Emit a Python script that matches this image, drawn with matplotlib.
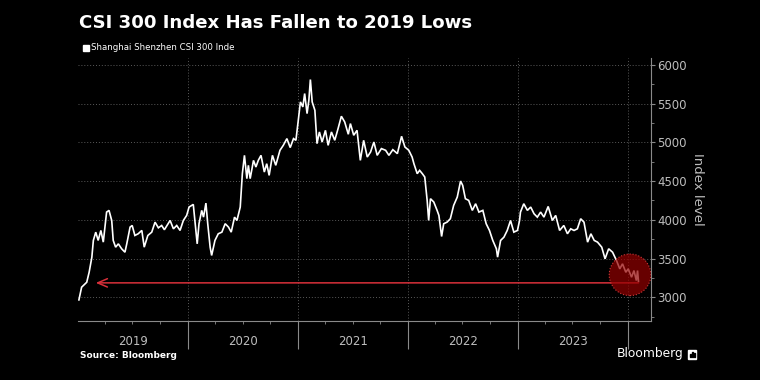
import matplotlib
matplotlib.use("Agg")
import matplotlib.pyplot as plt
import matplotlib.dates as mdates
from matplotlib.ticker import MultipleLocator, NullFormatter, FixedLocator
import pandas as pd

# ---------------- data ----------------
dates = [
    "2019-01-04", "2019-01-13", "2019-01-30", "2019-02-07", "2019-02-16", "2019-02-21",
    "2019-03-01", "2019-03-09", "2019-03-18", "2019-03-26", "2019-04-06", "2019-04-14",
    "2019-04-23", "2019-04-28", "2019-05-06", "2019-05-15", "2019-05-26", "2019-06-06",
    "2019-06-12", "2019-06-23", "2019-06-30", "2019-07-09", "2019-07-20", "2019-08-01",
    "2019-08-09", "2019-08-21", "2019-09-03", "2019-09-14", "2019-09-25", "2019-10-06",
    "2019-10-15", "2019-11-03", "2019-11-14", "2019-11-25", "2019-12-06", "2019-12-17",
    "2019-12-28",
    "2020-01-05", "2020-01-19", "2020-02-01", "2020-02-07", "2020-02-16", "2020-02-22",
    "2020-03-01", "2020-03-07", "2020-03-15", "2020-03-20", "2020-03-31", "2020-04-11",
    "2020-04-23", "2020-05-04", "2020-05-15", "2020-05-24", "2020-06-04", "2020-06-12",
    "2020-06-23", "2020-06-30", "2020-07-07", "2020-07-15", "2020-07-20", "2020-07-26",
    "2020-08-06", "2020-08-14", "2020-08-22", "2020-08-31", "2020-09-11", "2020-09-19",
    "2020-09-27", "2020-10-08", "2020-10-19", "2020-11-02", "2020-11-13", "2020-11-25",
    "2020-12-06", "2020-12-17", "2020-12-25",
    "2021-01-03", "2021-01-09", "2021-01-17", "2021-01-23", "2021-01-31", "2021-02-06",
    "2021-02-11", "2021-02-17", "2021-02-26", "2021-03-05", "2021-03-13", "2021-03-22",
    "2021-04-02", "2021-04-11", "2021-04-22", "2021-05-03", "2021-05-14", "2021-05-25",
    "2021-06-05", "2021-06-17", "2021-06-24", "2021-07-05", "2021-07-16", "2021-07-27",
    "2021-08-07", "2021-08-19", "2021-08-30", "2021-09-10", "2021-09-21", "2021-10-05",
    "2021-10-19", "2021-10-30", "2021-11-12", "2021-11-27", "2021-12-11", "2021-12-22",
    "2022-01-04", "2022-01-15", "2022-01-21", "2022-02-01", "2022-02-09", "2022-02-18",
    "2022-02-26", "2022-03-06", "2022-03-11", "2022-03-17", "2022-03-28", "2022-04-08",
    "2022-04-14", "2022-04-23", "2022-04-30", "2022-05-11", "2022-05-22", "2022-06-02",
    "2022-06-14", "2022-06-25", "2022-07-02", "2022-07-11", "2022-07-22", "2022-08-03",
    "2022-08-14", "2022-08-25", "2022-09-07", "2022-09-18", "2022-09-29", "2022-10-10",
    "2022-10-22", "2022-10-26", "2022-11-05", "2022-11-16", "2022-11-27", "2022-12-08",
    "2022-12-19", "2022-12-31",
    "2023-01-07", "2023-01-10", "2023-01-21", "2023-02-02", "2023-02-13", "2023-02-24",
    "2023-03-07", "2023-03-18", "2023-03-29", "2023-04-12", "2023-04-26", "2023-05-07",
    "2023-05-20", "2023-06-03", "2023-06-15", "2023-06-26", "2023-07-07", "2023-07-18",
    "2023-07-29", "2023-08-09", "2023-08-21", "2023-09-01", "2023-09-12", "2023-09-23",
    "2023-10-07", "2023-10-18", "2023-10-30", "2023-11-12", "2023-11-25", "2023-12-06",
    "2023-12-15", "2023-12-26",
    "2024-01-03", "2024-01-14", "2024-01-22", "2024-01-30", "2024-02-03", "2024-02-06",
]
values = [
    2966, 3130, 3194, 3323, 3517, 3734,
    3841, 3734, 3863, 3712, 4100, 4122,
    3992, 3734, 3647, 3690, 3626, 3582,
    3690, 3906, 3927, 3798, 3820, 3863,
    3647, 3798, 3841, 3970, 3897, 3927,
    3872, 3992, 3884, 3927, 3863, 3992,
    4057,
    4165, 4199, 3690, 3950, 4122, 4035,
    4216, 3950, 3647, 3540, 3734, 3820,
    3841, 3950, 3906, 3841, 4035, 3992,
    4165, 4596, 4833, 4532, 4704, 4532,
    4768, 4682, 4768, 4833, 4617, 4725,
    4574, 4833, 4704, 4898, 4962, 5049,
    4933, 5049, 5027,
    5329, 5523, 5458, 5631, 5372, 5545,
    5812, 5523, 5415, 4984, 5135, 5005,
    5156, 4962, 5135, 5027, 5178, 5338,
    5264, 5105, 5243, 5092, 5156, 4768,
    5027, 4811, 4876, 5005, 4833, 4920,
    4898, 4833, 4906, 4855, 5079, 4941,
    4898, 4811, 4725, 4596, 4639, 4596,
    4553, 4251, 3992, 4273, 4230, 4122,
    4057, 3785, 3950, 3970, 4014, 4186,
    4294, 4501, 4445, 4273, 4251, 4122,
    4208, 4100, 4122, 3950, 3863, 3734,
    3626, 3518, 3734, 3776, 3863, 3992,
    3841, 3863,
    3992, 4100, 4208, 4122, 4165, 4079,
    4035, 4100, 4035, 4173, 3992, 4057,
    3863, 3927, 3820, 3884, 3863, 3884,
    4014, 3970, 3712, 3820, 3734, 3712,
    3647, 3497, 3626, 3582, 3475, 3367,
    3432, 3323,
    3367, 3259, 3345, 3216, 3345, 3205,
]
low_level = 3186                # 2019 low level marked by the red arrow
arrow_start = "2019-03-01"
circle_date = "2024-01-09"
circle_value = 3290
year_labels = ["2019", "2020", "2021", "2022", "2023"]
yticks = [3000, 3500, 4000, 4500, 5000, 5500, 6000]

title = "CSI 300 Index Has Fallen to 2019 Lows"
legend_label = "Shanghai Shenzhen CSI 300 Inde"
ylabel = "Index level"
source = "Source: Bloomberg"

# ---------------- figure ----------------
BG = "black"
GRID = "#5a5a5a"
TICK = "#bdbdbd"
RED = "#d8303a"

fig = plt.figure(figsize=(7.6, 3.8), dpi=100, facecolor=BG)
ax = fig.add_axes([78 / 760, 1 - 320.5 / 380, (650.5 - 78) / 760, (320.5 - 58) / 380])
ax.set_facecolor(BG)

x = pd.to_datetime(dates)
ax.plot(x, values, color="white", lw=1.2, zorder=3, solid_joinstyle="miter")

ax.set_xlim(pd.Timestamp("2019-01-01"), pd.Timestamp("2024-03-17"))
ax.set_ylim(2700, 6090)

# red arrow to 2019 lows
ax.annotate("", xy=(pd.Timestamp(arrow_start), low_level),
            xytext=(pd.Timestamp("2024-02-06"), low_level),
            arrowprops=dict(arrowstyle="->,head_length=0.7,head_width=0.3",
                            color=RED, lw=1.1, shrinkA=0, shrinkB=0),
            zorder=4)

# highlight circle
ax.scatter([pd.Timestamp(circle_date)], [circle_value], s=30 ** 2,
           facecolor=(0.58, 0.0, 0.0, 0.7), edgecolor=(0.85, 0.25, 0.25, 0.9),
           linewidths=0.8, linestyles=":", zorder=5)

# spines
for s in ["top", "left"]:
    ax.spines[s].set_visible(False)
for s in ["bottom", "right"]:
    ax.spines[s].set_color("#8a8a8a")
    ax.spines[s].set_linewidth(0.8)

# y axis on right
ax.yaxis.tick_right()
ax.yaxis.set_label_position("right")
ax.set_yticks(yticks)
ax.yaxis.set_minor_locator(MultipleLocator(250))
ax.tick_params(axis="y", which="major", colors="#8a8a8a", labelcolor=TICK,
               labelsize=8.5, length=3, width=0.8, pad=2)
ax.tick_params(axis="y", which="minor", colors="#8a8a8a", length=2, width=0.6)
ax.set_ylabel(ylabel, color=TICK, fontsize=9.5, rotation=270, labelpad=12)
ax.grid(axis="y", which="major", color=GRID, ls=(0, (1, 2)), lw=0.7, zorder=1)

# x axis: year boundaries as long ticks, labels centered in each year
year_starts = [pd.Timestamp(f"{int(y) + 1}-01-01") for y in year_labels]
ax.xaxis.set_major_locator(FixedLocator(mdates.date2num(year_starts)))
ax.xaxis.set_major_formatter(NullFormatter())
ax.xaxis.set_minor_locator(mdates.MonthLocator(bymonth=[4, 7, 10]))
ax.xaxis.set_minor_formatter(NullFormatter())
ax.tick_params(axis="x", which="major", colors="#8a8a8a", length=20, width=0.8)
ax.tick_params(axis="x", which="minor", colors="#8a8a8a", length=2.5, width=0.6)
ax.grid(axis="x", which="major", color=GRID, ls=(0, (1, 2)), lw=0.7, zorder=1)
for yl in year_labels:
    mid = pd.Timestamp(f"{yl}-07-02")
    ax.text(mid, -0.08, yl, transform=ax.get_xaxis_transform(), ha="center",
            va="center", color=TICK, fontsize=8.5)

# title, legend
fig.text(79 / 760, 1 - 23 / 380, title, color="white", fontsize=13.1,
         fontweight="bold", ha="left", va="center")
fig.patches.append(plt.Rectangle((83 / 760, 1 - 51 / 380), 6 / 760, 6 / 380,
                                 transform=fig.transFigure, color="white"))
fig.text(91 / 760, 1 - 47.5 / 380, legend_label, color="white", fontsize=6.2,
         ha="left", va="center")

# footer
fig.text(80 / 760, 1 - 355 / 380, source, color="white", fontsize=6.5,
         fontweight="bold", ha="left", va="center")
fig.text(683 / 760, 1 - 354 / 380, "Bloomberg", color="white", fontsize=8.8,
         ha="right", va="center")
fig.patches.append(plt.Rectangle((688 / 760, 1 - 359 / 380), 8 / 760, 9 / 380,
                                 transform=fig.transFigure, color="white"))
for bx, bh in [(690, 3), (692, 5), (694, 4)]:
    fig.patches.append(plt.Rectangle((bx / 760, 1 - 357 / 380), 1 / 760, bh / 380,
                                     transform=fig.transFigure, color="black"))

fig.savefig("out.png", dpi=100, facecolor=BG)
